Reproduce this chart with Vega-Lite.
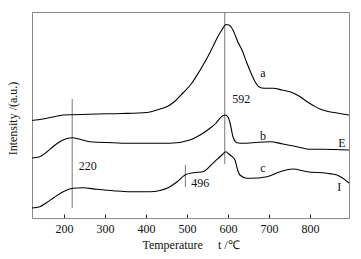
{
  "$schema": "https://vega.github.io/schema/vega-lite/v6.json",
  "width": 317,
  "height": 206,
  "autosize": {"type": "none"},
  "padding": {"left": 32, "top": 12, "right": 12, "bottom": 41},
  "config": {
    "view": {"stroke": "#8a8a8a", "strokeWidth": 1},
    "font": "Liberation Serif",
    "axis": {"grid": false, "labelFont": "Liberation Serif", "titleFont": "Liberation Serif", "labelFontSize": 12, "titleFontSize": 12, "titleFontWeight": "normal", "labelColor": "#111", "titleColor": "#111"}
  },
  "datasets": {
    "curves": [
      {"s": "a", "T": 122, "I": 97.5}, {"s": "a", "T": 149, "I": 99}, {"s": "a", "T": 173, "I": 101}, {"s": "a", "T": 198, "I": 103}, {"s": "a", "T": 222, "I": 103.3}, {"s": "a", "T": 280, "I": 104}, {"s": "a", "T": 341, "I": 104.5}, {"s": "a", "T": 402, "I": 105.5}, {"s": "a", "T": 434, "I": 109}, {"s": "a", "T": 451, "I": 111.3}, {"s": "a", "T": 471, "I": 117}, {"s": "a", "T": 490, "I": 125}, {"s": "a", "T": 512, "I": 135}, {"s": "a", "T": 532, "I": 148}, {"s": "a", "T": 549, "I": 160}, {"s": "a", "T": 563, "I": 171.3}, {"s": "a", "T": 576, "I": 182}, {"s": "a", "T": 585, "I": 188}, {"s": "a", "T": 595, "I": 193.5}, {"s": "a", "T": 602, "I": 193}, {"s": "a", "T": 612, "I": 188}, {"s": "a", "T": 624, "I": 176}, {"s": "a", "T": 634, "I": 168}, {"s": "a", "T": 646, "I": 155}, {"s": "a", "T": 656, "I": 145}, {"s": "a", "T": 666, "I": 136.3}, {"s": "a", "T": 676, "I": 131}, {"s": "a", "T": 688, "I": 129.7}, {"s": "a", "T": 710, "I": 129.7}, {"s": "a", "T": 732, "I": 128}, {"s": "a", "T": 751, "I": 126.3}, {"s": "a", "T": 773, "I": 122}, {"s": "a", "T": 793, "I": 116.3}, {"s": "a", "T": 810, "I": 112}, {"s": "a", "T": 824, "I": 109}, {"s": "a", "T": 844, "I": 106.5}, {"s": "a", "T": 866, "I": 105}, {"s": "a", "T": 895, "I": 103},
      {"s": "b", "T": 122, "I": 60}, {"s": "b", "T": 141, "I": 61.3}, {"s": "b", "T": 158, "I": 66}, {"s": "b", "T": 173, "I": 71.3}, {"s": "b", "T": 185, "I": 75}, {"s": "b", "T": 198, "I": 78}, {"s": "b", "T": 210, "I": 79.7}, {"s": "b", "T": 220, "I": 80.3}, {"s": "b", "T": 239, "I": 78.7}, {"s": "b", "T": 263, "I": 76.3}, {"s": "b", "T": 320, "I": 75.3}, {"s": "b", "T": 361, "I": 74.7}, {"s": "b", "T": 410, "I": 74.7}, {"s": "b", "T": 458, "I": 74.7}, {"s": "b", "T": 507, "I": 78}, {"s": "b", "T": 532, "I": 83}, {"s": "b", "T": 556, "I": 89.7}, {"s": "b", "T": 571, "I": 95}, {"s": "b", "T": 580, "I": 99.7}, {"s": "b", "T": 593, "I": 103}, {"s": "b", "T": 600, "I": 101}, {"s": "b", "T": 605, "I": 95}, {"s": "b", "T": 612, "I": 81.3}, {"s": "b", "T": 622, "I": 75.3}, {"s": "b", "T": 637, "I": 74.7}, {"s": "b", "T": 661, "I": 75.3}, {"s": "b", "T": 702, "I": 76.3}, {"s": "b", "T": 734, "I": 74}, {"s": "b", "T": 768, "I": 71.3}, {"s": "b", "T": 800, "I": 68.7}, {"s": "b", "T": 832, "I": 68.7}, {"s": "b", "T": 895, "I": 68},
      {"s": "c", "T": 122, "I": 10}, {"s": "c", "T": 141, "I": 11.3}, {"s": "c", "T": 158, "I": 15.5}, {"s": "c", "T": 173, "I": 19.7}, {"s": "c", "T": 198, "I": 26.3}, {"s": "c", "T": 222, "I": 29.7}, {"s": "c", "T": 246, "I": 30.3}, {"s": "c", "T": 280, "I": 28.7}, {"s": "c", "T": 320, "I": 27.3}, {"s": "c", "T": 361, "I": 26.3}, {"s": "c", "T": 410, "I": 26.3}, {"s": "c", "T": 434, "I": 27.5}, {"s": "c", "T": 451, "I": 29.7}, {"s": "c", "T": 476, "I": 36.3}, {"s": "c", "T": 495, "I": 43}, {"s": "c", "T": 515, "I": 45.3}, {"s": "c", "T": 539, "I": 46.3}, {"s": "c", "T": 563, "I": 54.7}, {"s": "c", "T": 585, "I": 63}, {"s": "c", "T": 595, "I": 66.3}, {"s": "c", "T": 602, "I": 64}, {"s": "c", "T": 610, "I": 61.3}, {"s": "c", "T": 617, "I": 58}, {"s": "c", "T": 622, "I": 50}, {"s": "c", "T": 629, "I": 43}, {"s": "c", "T": 646, "I": 39.7}, {"s": "c", "T": 654, "I": 39.7}, {"s": "c", "T": 695, "I": 41.3}, {"s": "c", "T": 727, "I": 46.3}, {"s": "c", "T": 758, "I": 49}, {"s": "c", "T": 793, "I": 46.3}, {"s": "c", "T": 841, "I": 44.7}, {"s": "c", "T": 866, "I": 43}, {"s": "c", "T": 880, "I": 39.7}, {"s": "c", "T": 895, "I": 35}
    ],
    "rules": [
      {"T": 220, "y1": 10, "y2": 119},
      {"T": 592, "y1": 54, "y2": 206},
      {"T": 496, "y1": 31, "y2": 53}
    ],
    "labels": [
      {"t": "a", "T": 685, "I": 145},
      {"t": "592", "T": 632, "I": 119},
      {"t": "b", "T": 685, "I": 82},
      {"t": "E", "T": 878, "I": 75},
      {"t": "c", "T": 685, "I": 50},
      {"t": "I", "T": 871, "I": 31},
      {"t": "220", "T": 258, "I": 52},
      {"t": "496", "T": 532, "I": 35}
    ]
  },
  "layer": [
    {
      "data": {"name": "rules"},
      "mark": {"type": "rule", "color": "#777777", "strokeWidth": 1},
      "encoding": {
        "x": {"field": "T", "type": "quantitative", "scale": {"domain": [122, 895], "nice": false, "zero": false}},
        "y": {"field": "y1", "type": "quantitative", "scale": {"domain": [0, 206], "nice": false}},
        "y2": {"field": "y2"}
      }
    },
    {
      "data": {"name": "curves"},
      "mark": {"type": "line", "color": "#000000", "strokeWidth": 1.1, "interpolate": "monotone"},
      "encoding": {
        "x": {"field": "T", "type": "quantitative", "scale": {"domain": [122, 895], "nice": false, "zero": false},
          "axis": {"values": [200, 300, 400, 500, 600, 700, 800], "tickSize": -4, "tickColor": "#222", "domainColor": "#8a8a8a", "labelPadding": 9, "title": "Temperature\u00a0\u00a0\u00a0\u00a0\u00a0t\u00a0/℃", "titlePadding": 5}},
        "y": {"field": "I", "type": "quantitative", "scale": {"domain": [0, 206], "nice": false},
          "axis": {"ticks": false, "labels": false, "domain": false, "title": "Intensity /(a.u.)", "titlePadding": 13, "titleY": 106}},
        "detail": {"field": "s"}
      }
    },
    {
      "data": {"name": "labels"},
      "mark": {"type": "text", "font": "Liberation Serif", "fontSize": 12, "color": "#111", "align": "center", "baseline": "middle"},
      "encoding": {
        "x": {"field": "T", "type": "quantitative"},
        "y": {"field": "I", "type": "quantitative"},
        "text": {"field": "t"}
      }
    }
  ]
}
